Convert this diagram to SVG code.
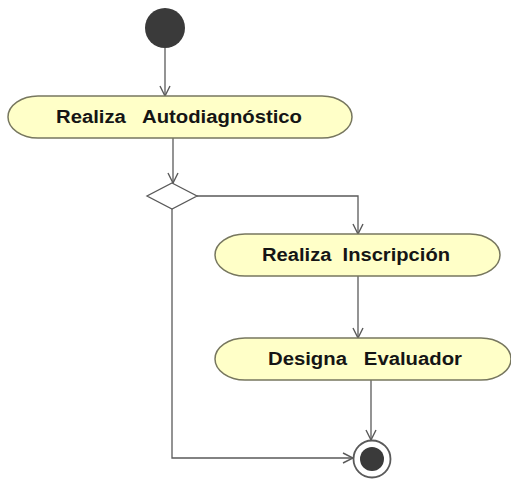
<svg xmlns="http://www.w3.org/2000/svg" width="511" height="479" viewBox="0 0 511 479">
  <defs>
    <style>
      .act { fill: #ffffc8; stroke: #77775f; stroke-width: 1.5; }
      .lbl { font-family: "Liberation Sans", Arial, sans-serif; font-weight: bold; font-size: 18px; fill: #151515; text-anchor: middle; white-space: pre; }
      .flow { fill: none; stroke: #5a5a5a; stroke-width: 1.3; }
      .dot { fill: #3a3a3a; }
    </style>
    <marker id="open" viewBox="0 0 12 12" refX="11" refY="6" markerWidth="12" markerHeight="12" markerUnits="userSpaceOnUse" orient="auto">
      <path d="M1,1 L11,6 L1,11" fill="none" stroke="#5a5a5a" stroke-width="1.4"/>
    </marker>
  </defs>
  <rect width="511" height="479" fill="#ffffff"/>

  <g id="connectors">
    <path class="flow" d="M165,48 V96" marker-end="url(#open)"/>
    <path class="flow" d="M173,138 V183" marker-end="url(#open)"/>
    <path class="flow" d="M197,196 H358 V234" marker-end="url(#open)"/>
    <path class="flow" d="M358,276 V338" marker-end="url(#open)"/>
    <path class="flow" d="M371,380 V440" marker-end="url(#open)"/>
    <path class="flow" d="M172,209 V458 H353" marker-end="url(#open)"/>
  </g>

  <g id="start">
    <circle class="dot" cx="165" cy="28" r="20"/>
  </g>

  <g id="autodiagnostico">
    <rect class="act" x="8" y="96" width="344" height="42" rx="30" ry="21"/>
    <text class="lbl" x="179" y="123" xml:space="preserve" textLength="246" lengthAdjust="spacingAndGlyphs">Realiza   Autodiagnóstico</text>
  </g>

  <g id="decision">
    <polygon points="172,183 197,196 172,209 147,196" fill="#ffffff" stroke="#5a5a5a" stroke-width="1.3"/>
  </g>

  <g id="inscripcion">
    <rect class="act" x="215" y="234" width="285" height="42" rx="30" ry="21"/>
    <text class="lbl" x="356" y="261" xml:space="preserve" textLength="188" lengthAdjust="spacingAndGlyphs">Realiza  Inscripción</text>
  </g>

  <g id="evaluador">
    <rect class="act" x="215" y="338" width="296" height="42" rx="30" ry="21"/>
    <text class="lbl" x="365" y="365" xml:space="preserve" textLength="194" lengthAdjust="spacingAndGlyphs">Designa   Evaluador</text>
  </g>

  <g id="end">
    <circle cx="372" cy="459" r="18.5" fill="#ffffff" stroke="#5a5a5a" stroke-width="1.8"/>
    <circle class="dot" cx="372" cy="459" r="12"/>
  </g>
</svg>
